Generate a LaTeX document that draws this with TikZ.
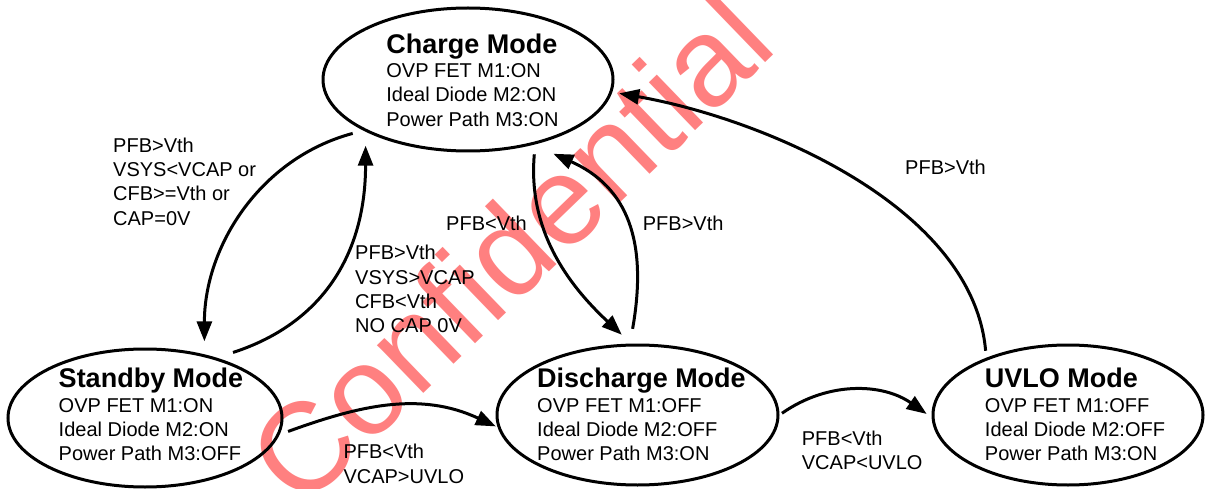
\documentclass[tikz,border=0pt]{standalone}
\usepackage{fontspec}
\setmainfont{Liberation Sans}
\usetikzlibrary{calc,shapes.geometric,arrows.meta}

\definecolor{stamp}{RGB}{255,128,128}
\newcommand{\bodyfont}{\fontsize{20}{24.3}\selectfont}
\newcommand{\titlefont}{\fontsize{27}{24.3}\selectfont\bfseries}

\begin{document}
\begin{tikzpicture}[x=1pt,y=1pt,state/.style={draw,ellipse,line width=3pt,inner sep=0pt},statetext/.style={align=left,inner sep=0pt,font=\bodyfont},condition/.style={anchor=north west,align=left,inner sep=0pt,font=\bodyfont},arrow/.style={-{Triangle[length=20pt,width=15pt]},line width=3pt},watermark/.style={anchor=base west,rotate=44,inner sep=0pt,text=stamp,font=\fontsize{126}{126}\selectfont}]
  \useasboundingbox (0,0) rectangle (1205,488);
  \node[watermark] (stamp) at (301.3,-23.7) {Confidential};

  % the four modes
  \node[state,minimum width=290pt,minimum height=143pt] (charge) at (468,408.5) {};
  \node[state,minimum width=274pt,minimum height=138pt] (standby) at ($ (charge) + (-323,-338.5) $) {};
  \node[state,minimum width=281pt,minimum height=140pt] (discharge) at ($ (charge) + (169.5,-335.5) $) {};
  \node[state,minimum width=270pt,minimum height=140pt] (uvlo) at ($ (charge) + (600,-335.5) $) {};

  \node[statetext] (chargetext) at ($ (charge) + (4.5,-0.5) $) {{\titlefont Charge Mode}\\OVP FET M1:ON\\Ideal Diode M2:ON\\Power Path M3:ON};
  \node[statetext] (standbytext) at ($ (standby) + (6,3.5) $) {{\titlefont Standby Mode}\\OVP FET M1:ON\\Ideal Diode M2:ON\\Power Path M3:OFF};
  \node[statetext] (dischargetext) at ($ (discharge) + (4,0.5) $) {{\titlefont Discharge Mode}\\OVP FET M1:OFF\\Ideal Diode M2:OFF\\Power Path M3:ON};
  \node[statetext] (uvlotext) at ($ (uvlo) + (7,0.5) $) {{\titlefont UVLO Mode}\\OVP FET M1:OFF\\Ideal Diode M2:OFF\\Power Path M3:ON};

  % transitions
  \draw[arrow,shorten <=11pt,shorten >=13pt] (charge.206.3) to[out=195,in=90] (standby.47);
  \draw[arrow,shorten <=17pt,shorten >=14pt] (standby.40) to[out=18,in=-90,looseness=1.1] (charge.207.4);
  \draw[arrow,shorten <=10pt,shorten >=13pt] (charge.316.6) to[out=265,in=137] (discharge.95.3);
  \draw[arrow,shorten <=15pt,shorten >=22pt] (discharge.96.6) to[out=80,in=336,looseness=1.2] (charge.315.5);
  \draw[arrow,shorten <=9pt,shorten >=2pt] (standby.353.6) to[out=20,in=155] (discharge.185.9);
  \draw[arrow,shorten <=3pt,shorten >=6pt] (discharge.0) to[out=35,in=145] (uvlo.181);
  \draw[arrow,shorten <=7pt,shorten >=7pt] (uvlo.145.3) to[out=95,in=350,looseness=0.85] (charge.355.5);

  % transition conditions
  \node[condition] (standbycond) at (113,350.5) {PFB>Vth\\VSYS<VCAP or\\CFB>=Vth or\\CAP=0V};
  \node[condition] (chargecond) at (355,242.9) {PFB>Vth\\VSYS>VCAP\\CFB<Vth\\NO CAP 0V};
  \node[condition] (dischargecond) at (446,272.2) {PFB<Vth};
  \node[condition] (backcond) at (642.7,272.2) {PFB>Vth};
  \node[condition] (leavecond) at (343.3,43.9) {PFB<Vth\\VCAP>UVLO};
  \node[condition] (uvlocond) at (801.7,57.2) {PFB<Vth\\VCAP<UVLO};
  \node[condition] (recovercond) at (905,328.2) {PFB>Vth};
\end{tikzpicture}
\end{document}
